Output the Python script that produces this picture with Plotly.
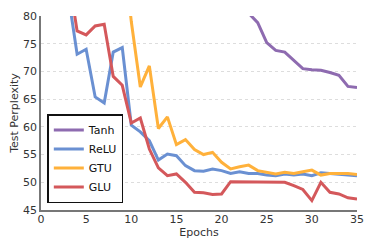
import plotly.graph_objects as go

epochs = list(range(1, 36))

tanh = [160, 150, 140, 132, 125, 118, 112, 107, 103, 99, 96, 93, 91, 89, 88, 87, 86, 85, 84, 83, 82.5, 81.8, 80.5,
        78.8, 75.2, 73.8, 73.5, 72.0, 70.5, 70.3, 70.2, 69.8, 69.3, 67.3, 67.1]
relu = [130, 100, 84, 73.1, 74.0, 65.4, 64.3, 73.5, 74.3, 60.3, 59.1, 57.5, 54.0, 55.1, 54.8, 53.0, 52.1, 52.0,
        52.4, 52.1, 51.6, 51.9, 51.6, 51.6, 51.3, 51.2, 51.5, 51.3, 51.5, 51.2, 51.7, 51.6, 51.5, 51.4, 51.2]
gtu = [170, 150, 135, 124, 115, 108, 102, 98, 94, 79.0, 67.2, 71.0, 59.7, 61.8, 56.8, 57.7, 55.9, 55.0, 55.4,
       53.6, 52.4, 52.8, 53.1, 52.1, 51.8, 51.5, 51.8, 51.6, 51.9, 52.2, 51.3, 51.6, 51.6, 51.6, 51.4]
glu = [120, 98, 87.7, 77.3, 76.6, 78.2, 78.5, 69.1, 67.5, 60.7, 61.6, 56.0, 52.6, 51.2, 51.5, 50.0, 48.2, 48.1,
       47.8, 47.9, 50.1, 50.1, 50.1, 50.1, 50.1, 50.0, 50.0, 49.4, 48.7, 46.7, 50.0, 48.2, 47.9, 47.2, 47.0]

series = [("Tanh", tanh, "#8E6BB0"), ("ReLU", relu, "#6A90D2"), ("GTU", gtu, "#FFB13B"), ("GLU", glu, "#D4585B")]

fig = go.Figure()
for name, vals, col in series:
    fig.add_trace(go.Scatter(x=epochs, y=vals, mode="lines", name=name,
                             line=dict(color=col, width=3)))

fig.update_layout(
    width=374, height=249,
    margin=dict(l=41, r=17, t=16, b=39, autoexpand=False),
    paper_bgcolor="white", plot_bgcolor="white",
    font=dict(family="DejaVu Sans", size=11, color="#333333"),
    legend=dict(x=0.02, y=0.036, xanchor="left", yanchor="bottom",
                bordercolor="#111111", borderwidth=1.5, bgcolor="white",
                font=dict(size=11, color="#111111"), tracegroupgap=0,
                itemwidth=30),
    showlegend=True,
)
fig.update_xaxes(range=[0, 35], tickvals=[0, 5, 10, 15, 20, 25, 30, 35], showgrid=False,
                 showline=True, linecolor="#777777", linewidth=1.5, zeroline=False,
                 automargin=False, ticklabelstandoff=-2,
                 tickfont=dict(size=11, color="#333333"),
                 title=dict(text="Epochs", font=dict(size=11, color="#333333"), standoff=0), ticks="", ticklen=0)
fig.update_yaxes(range=[45, 80], tickvals=[45, 50, 55, 60, 65, 70, 75, 80], showgrid=True,
                 gridcolor="#DDDDDD", griddash="dot", gridwidth=1,
                 showline=True, linecolor="#777777", linewidth=1.5, zeroline=False,
                 automargin=False,
                 tickfont=dict(size=11, color="#333333"),
                 title=dict(text="Test Perplexity", font=dict(size=11, color="#333333"), standoff=2), ticks="")

fig.write_html("out.html", config={"displayModeBar": False},
               post_script="document.body.style.margin='0';")
